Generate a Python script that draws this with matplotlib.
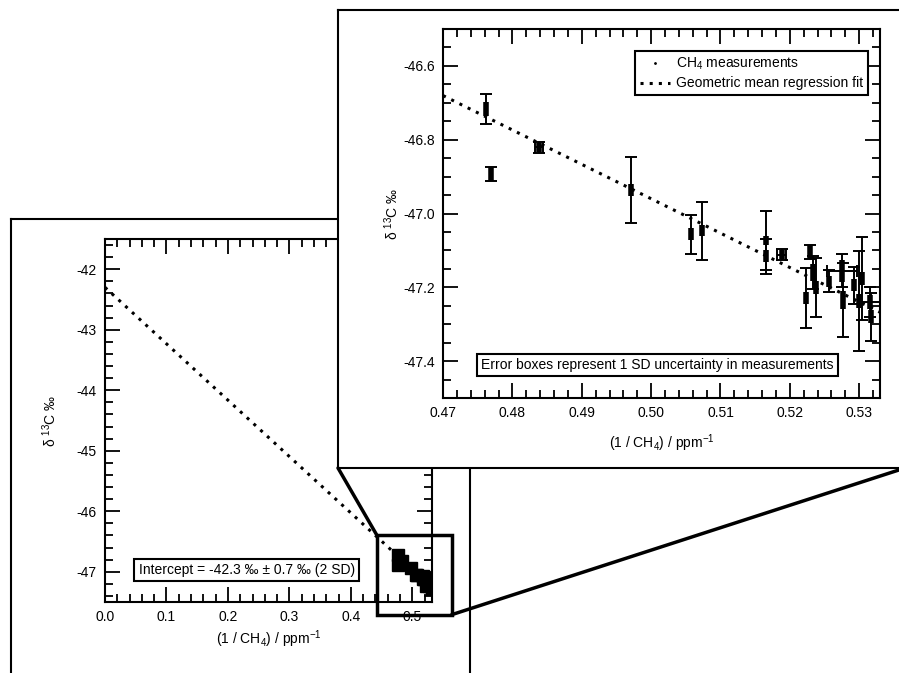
import numpy as np
import matplotlib
matplotlib.use('Agg')
import matplotlib.pyplot as plt
from matplotlib.ticker import MultipleLocator, FormatStrFormatter
from matplotlib.patches import Rectangle, ConnectionPatch

plt.rcParams['font.family'] = 'Liberation Sans'
plt.rcParams['mathtext.default'] = 'regular'
plt.rcParams['axes.unicode_minus'] = False

# 1/CH4 (ppm^-1) and d13C (permil)
inv_ch4 = np.array([0.4762, 0.4769, 0.4838, 0.4971, 0.5057, 0.5074, 0.5166, 0.5166, 0.5188, 0.5229, 0.5223,
                    0.5234, 0.5238, 0.5257, 0.5275, 0.5276, 0.5292, 0.5304, 0.5300, 0.5315, 0.5317])
d13c = np.array([-46.717, -46.893, -46.821, -46.937, -47.056, -47.047, -47.072, -47.116, -47.112, -47.103, -47.229,
                 -47.160, -47.200, -47.184, -47.155, -47.235, -47.194, -47.176, -47.237, -47.240, -47.280])
# 1 SD boxes and outer error bars
box_sd = np.array([0.018, 0.019, 0.012, 0.016, 0.016, 0.015, 0.012, 0.016, 0.012, 0.019, 0.016,
                   0.022, 0.018, 0.016, 0.030, 0.025, 0.016, 0.018, 0.018, 0.020, 0.018])
y_err = np.array([0.040, 0.019, 0.015, 0.089, 0.053, 0.079, 0.080, 0.047, 0.015, 0.019, 0.080,
                  0.045, 0.080, 0.030, 0.045, 0.100, 0.050, 0.113, 0.135, 0.040, 0.065])
x_err = np.array([0, 0, 0.0006, 0, 0, 0, 0, 0, 0.0006, 0, 0,
                  0, 0, 0, 0.0022, 0, 0, 0, 0, 0.0015, 0])

# geometric mean regression fit
fit_intercept = -42.3
fit_slope = -9.32

main_xlim = (0.0, 0.532)
main_ylim = (-47.5, -41.5)
ins_xlim = (0.47, 0.533)
ins_ylim = (-47.5, -46.5)
zoom_x = (0.442, 0.564)
zoom_y = (-47.71, -46.39)

xlabel = '(1 / CH$_4$) / ppm$^{-1}$'
ylabel = 'δ $^{13}$C ‰'
dotted = (0, (1, 2))


def style(a):
    a.tick_params(which='both', direction='in', top=True, right=True, width=1.3, labelsize=10, colors='k')
    a.tick_params(which='major', length=10.8, pad=6)
    a.tick_params(which='minor', length=5.5)
    for s in a.spines.values():
        s.set_linewidth(1.5)


def frame(rect, z):
    f = fig.add_axes(rect, zorder=z)
    f.set_xticks([])
    f.set_yticks([])
    f.set_facecolor('white')
    for s in f.spines.values():
        s.set_linewidth(1.5)
    return f


fig = plt.figure(figsize=(8.99, 6.73), dpi=100)

# ---- main panel ----
frame_main = frame([0.0122, -0.05, 0.5106, 0.7246], 0)
ax = fig.add_axes([0.1168, 0.1055, 0.3637, 0.5394], zorder=1)
ax.set_facecolor('none')
xfit = np.array(main_xlim)
ax.plot(xfit, fit_intercept + fit_slope * xfit, color='k', lw=2.2, ls=dotted)
ax.plot(inv_ch4, d13c, 's', color='k', ms=9)
ax.set_xlim(*main_xlim)
ax.set_ylim(*main_ylim)
ax.xaxis.set_major_locator(MultipleLocator(0.1))
ax.xaxis.set_minor_locator(MultipleLocator(0.02))
ax.yaxis.set_major_locator(MultipleLocator(1))
ax.yaxis.set_minor_locator(MultipleLocator(0.2))
ax.xaxis.set_major_formatter(FormatStrFormatter('%.1f'))
ax.yaxis.set_major_formatter(FormatStrFormatter('%d'))
style(ax)
ax.set_xlabel(xlabel, fontsize=10)
ax.set_ylabel(ylabel, fontsize=10)
ax.xaxis.set_label_coords(0.5, -0.074)
ax.yaxis.set_label_coords(-0.14, 0.5)
ax.text(0.433, 0.088, 'Intercept = -42.3 ‰ ± 0.7 ‰ (2 SD)', transform=ax.transAxes,
        ha='center', va='center', fontsize=10,
        bbox=dict(boxstyle='square,pad=0.3', fc='white', ec='k', lw=1.5))
ax.add_patch(Rectangle((zoom_x[0], zoom_y[0]), zoom_x[1] - zoom_x[0], zoom_y[1] - zoom_y[0],
                       fill=False, ec='k', lw=2.5, clip_on=False, zorder=5))

# ---- inset panel ----
frame_ins = frame([0.376, 0.3046, 0.6307, 0.6805], 2)
axi = fig.add_axes([0.4928, 0.4086, 0.4861, 0.5483], zorder=3)
axi.set_facecolor('white')
xfit_i = np.array(ins_xlim)
axi.plot(xfit_i, fit_intercept + fit_slope * xfit_i, color='k', lw=2.2, ls=dotted, zorder=4,
         label='Geometric mean regression fit')
axi.errorbar(inv_ch4, d13c, yerr=y_err, fmt='none', ecolor='k', elinewidth=1.4, capsize=4.5, capthick=1.4)
has_x = x_err > 0
axi.errorbar(inv_ch4[has_x], d13c[has_x], xerr=x_err[has_x], fmt='none', ecolor='k', elinewidth=1.4,
             capsize=4, capthick=1.4)
axi.errorbar(inv_ch4, d13c, yerr=box_sd, fmt='none', ecolor='k', elinewidth=4, capsize=0)
axi.plot(inv_ch4, d13c, '.', color='k', ms=2, label='CH$_4$ measurements')
axi.set_xlim(*ins_xlim)
axi.set_ylim(*ins_ylim)
axi.xaxis.set_major_locator(MultipleLocator(0.01))
axi.xaxis.set_minor_locator(MultipleLocator(0.002))
axi.yaxis.set_major_locator(MultipleLocator(0.2))
axi.yaxis.set_minor_locator(MultipleLocator(0.05))
axi.xaxis.set_major_formatter(FormatStrFormatter('%.2f'))
axi.yaxis.set_major_formatter(FormatStrFormatter('%.1f'))
style(axi)
axi.set_xlabel(xlabel, fontsize=10)
axi.set_ylabel(ylabel, fontsize=10)
axi.xaxis.set_label_coords(0.5, -0.092)
axi.yaxis.set_label_coords(-0.096, 0.5)
h, l = axi.get_legend_handles_labels()
leg = axi.legend(h[::-1], l[::-1], loc='upper right', bbox_to_anchor=(0.9725, 0.9404), fontsize=10,
                 frameon=True, fancybox=False, edgecolor='k', framealpha=1, handlelength=2.2,
                 borderpad=0.35, labelspacing=0.3, handletextpad=0.4, borderaxespad=0)
leg.get_frame().set_linewidth(1.5)
axi.text(0.49, 0.0894, 'Error boxes represent 1 SD uncertainty in measurements', transform=axi.transAxes,
         ha='center', va='center', fontsize=10,
         bbox=dict(boxstyle='square,pad=0.3', fc='white', ec='k', lw=1.5), zorder=6)

# ---- connectors from zoom box to inset frame ----
for xa, ya, xb in [(zoom_x[0], zoom_y[1], 0), (zoom_x[1], zoom_y[0], 1)]:
    cp = ConnectionPatch(xyA=(xa, ya), coordsA=ax.transData, xyB=(xb, 0), coordsB=frame_ins.transAxes,
                         color='k', lw=2.5, zorder=10)
    fig.add_artist(cp)

fig.savefig('out.png', dpi=100)
